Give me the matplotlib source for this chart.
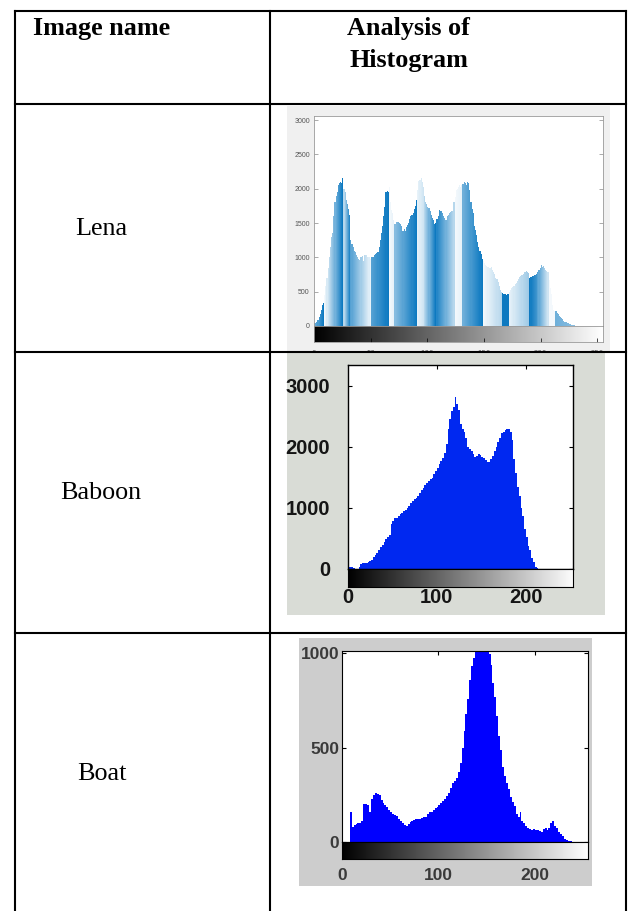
import matplotlib.pyplot as plt
import numpy as np
from matplotlib.patches import Rectangle
from matplotlib.lines import Line2D

W, H = 630, 911

# table text
header_left = 'Image name'
header_right = ['Analysis of', 'Histogram']
image_names = ['Lena', 'Baboon', 'Boat']

# Lena histogram, one value per grey level (0..255)
lena_counts = [
    40, 50, 60, 90, 130, 180, 240, 300, 340, 450, 580, 700, 840, 1000, 1150, 1300,
    1350, 1600, 1800, 1900, 1950, 2050, 2080, 2100, 2080, 2150, 2000, 1950, 1830, 1780, 1700, 1620,
    1250, 1200, 1150, 1100, 1080, 1040, 1000, 980, 960, 1000, 1020, 940, 1040, 1040, 1030, 1010,
    1000, 980, 1000, 1000, 1010, 1030, 1050, 1060, 1080, 1150, 1250, 1350, 1450, 1600, 1740, 1950,
    1960, 1950, 2030, 1800, 1690, 1640, 1550, 1490, 1510, 1520, 1510, 1500, 1490, 1450, 1390, 1420,
    1380, 1440, 1470, 1500, 1560, 1600, 1620, 1640, 1700, 1750, 1840, 1980, 2120, 2130, 2150, 2100,
    2030, 1900, 1800, 1780, 1740, 1720, 1680, 1620, 1580, 1550, 1490, 1500, 1560, 1610, 1690, 1680,
    1670, 1650, 1600, 1570, 1540, 1600, 1620, 1640, 1660, 1670, 1680, 1800, 1880, 1980, 2000, 2020,
    2050, 2030, 2060, 2075, 2100, 2080, 2050, 2100, 2080, 1980, 1800, 1700, 1640, 1460, 1400, 1320,
    1230, 1150, 1100, 1050, 980, 940, 920, 890, 870, 860, 840, 840, 860, 820, 790, 760,
    700, 680, 640, 580, 530, 500, 480, 470, 460, 450, 460, 470, 495, 530, 560, 570,
    590, 610, 630, 660, 690, 710, 730, 750, 765, 780, 790, 800, 790, 770, 700, 720,
    730, 735, 740, 740, 760, 790, 810, 850, 885, 860, 870, 850, 820, 800, 790, 670,
    560, 470, 300, 240, 225, 215, 190, 170, 150, 130, 110, 95, 80, 65, 55, 45,
    38, 32, 25, 20, 15, 10, 6,
] + [0] * 25

# Baboon histogram, bins of two grey levels (0, 2, ..., 254)
baboon_counts = [
    40, 40, 35, 10, 0, 5, 30, 80, 95, 100, 105, 115, 130, 150, 190, 230,
    270, 310, 360, 400, 450, 490, 520, 560, 730, 780, 830, 840, 870, 900, 910, 950,
    970, 1000, 1030, 1080, 1110, 1150, 1170, 1200, 1240, 1300, 1330, 1380, 1400, 1440, 1470, 1490,
    1550, 1610, 1660, 1720, 1770, 1820, 1900, 2050, 2300, 2450, 2580, 2650, 2820, 2700, 2600, 2380,
    2300, 2250, 2150, 2000, 1970, 1930, 1880, 1840, 1850, 1880, 1870, 1840, 1810, 1790, 1760, 1760,
    1800, 1850, 1930, 2000, 2080, 2150, 2220, 2250, 2280, 2300, 2290, 2250, 2120, 1800, 1570, 1350,
    1190, 1000, 860, 650, 530, 380, 310, 180, 120, 40, 10,
] + [0] * 21

# Boat histogram, bins of two grey levels (0, 2, ..., 254)
boat_counts = [
    0, 0, 0, 0, 160, 80, 90, 95, 100, 100, 110, 200, 200, 195, 160, 230,
    250, 260, 255, 250, 220, 205, 195, 185, 170, 160, 150, 145, 140, 120, 110, 100,
    90, 85, 95, 105, 110, 115, 120, 120, 122, 125, 130, 135, 150, 160, 160, 170,
    180, 185, 195, 205, 215, 230, 245, 260, 285, 310, 325, 340, 370, 420, 500, 590,
    680, 760, 860, 930, 975, 1020, 1060, 1080, 1090, 1080, 1060, 1030, 995, 940, 840, 770,
    670, 560, 485, 400, 350, 310, 280, 240, 210, 190, 150, 135, 160, 110, 100, 85,
    75, 70, 65, 70, 65, 65, 60, 55, 70, 75, 65, 75, 100, 110, 85, 75,
    55, 40, 30, 18, 12, 5, 3,
] + [0] * 9

# shading of the Lena bars: (first bin, last bin, shade at start, shade at end)
lena_shading = [
    (0, 8, 0.6, 1.0), (9, 9, 0.05, 0.05), (10, 25, 0.1, 1.0), (26, 31, 0.3, 0.9),
    (32, 49, 0.7, 0.1), (50, 65, 0.7, 1.0), (66, 70, 0.05, 0.1), (71, 90, 0.5, 1.0),
    (91, 96, 0.1, 0.2), (97, 107, 0.3, 1.0), (108, 123, 0.9, 0.3), (124, 130, 0.05, 0.1),
    (131, 148, 0.6, 1.0), (149, 165, 0.05, 0.3), (166, 171, 1.0, 1.0), (172, 189, 0.1, 0.4),
    (190, 196, 1.0, 0.8), (197, 206, 0.7, 0.2), (207, 212, 0.05, 0.05), (213, 255, 0.6, 0.3),
]

serif = 'Liberation Serif'
sans = 'Liberation Sans'


def rect(x0, y0, x1, y1):
    return [x0 / W, 1 - y1 / H, (x1 - x0) / W, (y1 - y0) / H]


def panel(x0, y0, x1, y1, color, z):
    fig.add_artist(Rectangle((x0 / W, 1 - y1 / H), (x1 - x0) / W, (y1 - y0) / H,
                             transform=fig.transFigure, facecolor=color,
                             edgecolor='none', zorder=z))


def gray_bar(x0, y0, x1, y1, xmax, z):
    cax = fig.add_axes(rect(x0, y0, x1, y1), zorder=z)
    grad = np.linspace(0, 1, 256).reshape(1, -1)
    cax.imshow(grad, cmap='gray', aspect='auto', extent=[0, 255, 0, 1])
    cax.set_xlim(0, xmax)
    cax.set_ylim(0, 1)
    cax.set_yticks([])
    return cax


fig = plt.figure(figsize=(W / 100, H / 100), dpi=100)

# ---- Lena ----
panel(287, 106, 610, 352, '#f0f0f0', 1)
ax = fig.add_axes(rect(314, 116, 603, 326), zorder=2)
levels = np.arange(256)
blue = np.array([0.0, 0.447, 0.741])
colors = []
for i in levels:
    for a, b, s0, s1 in lena_shading:
        if a <= i <= b:
            s = s0 if b == a else s0 + (s1 - s0) * (i - a) / (b - a)
            break
    colors.append(tuple(1 - s * (1 - blue) * 0.95))
ax.bar(levels, lena_counts, width=1.0, align='edge', color=colors, linewidth=0)
ax.set_xlim(0, 255)
ax.set_ylim(0, 3060)
ax.set_yticks(np.arange(0, 3001, 500))
ax.set_xticks([])
ax.tick_params(axis='y', direction='in', right=True, length=3, width=0.5,
               labelsize=5, labelcolor='#555555', color='#888888', pad=3)
for s in ax.spines.values():
    s.set_color('#999999')
    s.set_linewidth(0.6)
ax.spines['bottom'].set_color('black')
for t in ax.get_yticklabels():
    t.set_family(sans)
cax = gray_bar(314, 326, 603, 342, 255, 2)
cax.set_xticks(np.arange(0, 251, 50))
cax.tick_params(axis='x', direction='in', length=3, width=0.5, labelsize=5,
                labelcolor='#555555', pad=6)
for s in cax.spines.values():
    s.set_color('#999999')
    s.set_linewidth(0.6)

# ---- Baboon ----
panel(287, 353, 605, 615, '#d9dcd6', 3)
ax = fig.add_axes(rect(348, 365, 573, 569), zorder=4)
edges2 = np.arange(0, 256, 2)
ax.bar(edges2, baboon_counts, width=2.0, align='edge', color='#0028f0', linewidth=0)
ax.set_xlim(0, 253)
ax.set_ylim(0, 3340)
ax.set_yticks([0, 1000, 2000, 3000])
ax.set_xticks([100, 200])
ax.tick_params(axis='both', direction='in', right=True, top=True, bottom=False,
               labelbottom=False, length=3, width=0.8, labelsize=14.5,
               labelcolor='#151515', pad=13)
for t in ax.get_yticklabels():
    t.set_family(sans)
    t.set_weight('bold')
for s in ax.spines.values():
    s.set_linewidth(1.0)
cax = gray_bar(348, 569, 573, 587, 253, 4)
cax.set_xticks([0, 100, 200])
cax.tick_params(axis='x', length=0, labelsize=14.5, labelcolor='#151515', pad=1)
for t in cax.get_xticklabels():
    t.set_family(sans)
    t.set_weight('bold')

# ---- Boat ----
panel(299, 638, 592, 886, '#cdcdcd', 5)
ax = fig.add_axes(rect(342, 651, 588, 842), zorder=6)
ax.bar(edges2, boat_counts, width=2.0, align='edge', color='#0000ff', linewidth=0)
ax.set_xlim(0, 255)
ax.set_ylim(0, 1012)
ax.set_yticks([0, 500, 1000])
ax.set_xticks([100, 200])
ax.tick_params(axis='both', direction='in', right=True, top=True, bottom=False,
               labelbottom=False, length=3, width=0.8, labelsize=12.5,
               labelcolor='#3a3a3a', pad=2)
for t in ax.get_yticklabels():
    t.set_family(sans)
    t.set_weight('bold')
cax = gray_bar(342, 842, 588, 859, 255, 6)
cax.set_xticks([0, 100, 200])
cax.tick_params(axis='x', length=0, labelsize=12.5, labelcolor='#3a3a3a', pad=6.5)
for t in cax.get_xticklabels():
    t.set_family(sans)
    t.set_weight('bold')

# ---- table grid and text ----
top = fig.add_axes([0, 0, 1, 1], zorder=10)
top.set_xlim(0, W)
top.set_ylim(H, 0)
top.axis('off')
lw = 1.5
for (xa, ya), (xb, yb) in [((15, 11), (626, 11)), ((15, 104), (626, 104)),
                           ((15, 352), (626, 352)), ((15, 633), (626, 633)),
                           ((15, 11), (15, H)), ((270, 11), (270, H)),
                           ((626, 11), (626, H))]:
    top.add_line(Line2D([xa, xb], [ya, yb], color='black', lw=lw,
                        solid_capstyle='projecting'))

fs = 18.8
top.text(33, 29, header_left, fontsize=fs, family=serif, weight='bold', va='center')
top.text(347, 29, header_right[0], fontsize=fs, family=serif, weight='bold', va='center')
top.text(349, 60, header_right[1], fontsize=fs, family=serif, weight='bold', va='center')
for name, x, y in zip(image_names, [75, 60, 77], [229, 493, 774]):
    top.text(x, y, name, fontsize=fs, family=serif, va='center')

fig.savefig('out.png', dpi=100)
